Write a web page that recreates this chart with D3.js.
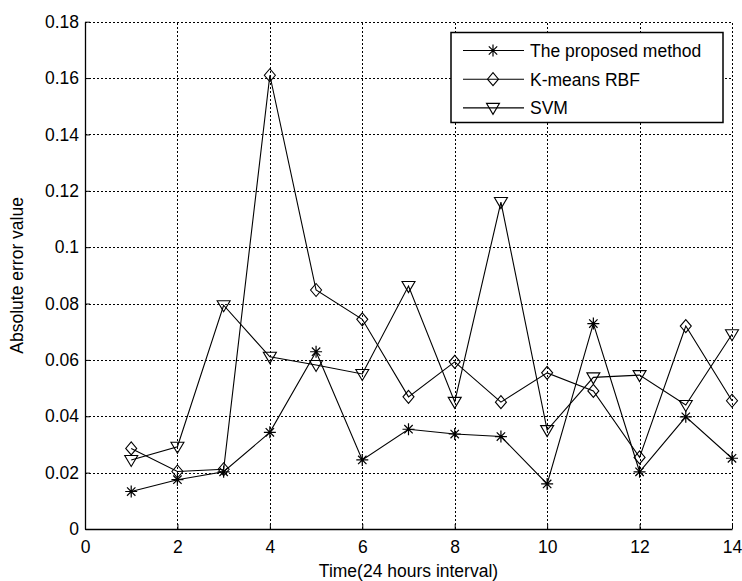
<!DOCTYPE html>
<html>
<head>
<meta charset="utf-8">
<script src="https://cdn.jsdelivr.net/npm/d3@7/dist/d3.min.js"></script>
<style>
  body { margin: 0; background: #fff; }
  text { font-family: Arial, "Liberation Sans", sans-serif; fill: #000; }
</style>
</head>
<body>
<div id="chart"></div>
<script>
let width = 742;
let height = 581;

// data
let hours = [1, 2, 3, 4, 5, 6, 7, 8, 9, 10, 11, 12, 13, 14];
let proposed = [0.0133, 0.0175, 0.0203, 0.0343, 0.0629, 0.0245, 0.0354, 0.0337, 0.0328, 0.0160, 0.0729, 0.0203, 0.0398, 0.0251];
let kmeans = [0.0286, 0.0204, 0.0212, 0.1610, 0.0848, 0.0744, 0.0469, 0.0593, 0.0450, 0.0554, 0.0490, 0.0254, 0.0720, 0.0455];
let svmErr = [0.0245, 0.0292, 0.0794, 0.0611, 0.0582, 0.0550, 0.0862, 0.0451, 0.1160, 0.0351, 0.0538, 0.0546, 0.0440, 0.0691];
let seriesNames = ['The proposed method', 'K-means RBF', 'SVM'];
let xTicks = [0, 2, 4, 6, 8, 10, 12, 14];
let yTicks = [0, 0.02, 0.04, 0.06, 0.08, 0.1, 0.12, 0.14, 0.16, 0.18];

let margin = { left: 85, right: 10, top: 21.7, bottom: 52 };
let svg = d3.select('#chart')
    .append('svg')
    .attr('width', width)
    .attr('height', height);

let x = d3.scaleLinear().domain([0, 14]).range([margin.left, width - margin.right]);
let y = d3.scaleLinear().domain([0, 0.18]).range([height - margin.bottom, margin.top]);

// grid
let grid = svg.append('g').attr('stroke', '#000').attr('stroke-width', 1).attr('stroke-dasharray', '2,2');
grid.selectAll('.gx').data(xTicks.slice(1, -1)).enter().append('line')
    .attr('x1', d => Math.round(x(d)) + 0.5).attr('x2', d => Math.round(x(d)) + 0.5)
    .attr('y1', y(0)).attr('y2', y(0.18));
grid.selectAll('.gy').data(yTicks.slice(1, -1)).enter().append('line')
    .attr('y1', d => Math.round(y(d)) + 0.5).attr('y2', d => Math.round(y(d)) + 0.5)
    .attr('x1', x(0)).attr('x2', x(14));
// top and right dotted edges
grid.append('line').attr('x1', x(0)).attr('x2', x(14)).attr('y1', Math.round(y(0.18)) + 0.5).attr('y2', Math.round(y(0.18)) + 0.5);
grid.append('line').attr('x1', Math.round(x(14)) + 0.5).attr('x2', Math.round(x(14)) + 0.5).attr('y1', y(0)).attr('y2', y(0.18));

// axes with inward ticks
let xAxis = svg.append('g')
    .attr('transform', 'translate(0,' + y(0) + ')')
    .call(d3.axisBottom(x).tickValues(xTicks).tickSizeInner(-5).tickSizeOuter(0).tickPadding(12).tickFormat(d3.format('d')));
let yAxis = svg.append('g')
    .attr('transform', 'translate(' + x(0) + ',0)')
    .call(d3.axisLeft(y).tickValues(yTicks).tickSizeInner(-5).tickSizeOuter(0).tickPadding(6).tickFormat(d => d === 0 ? '0' : String(+d.toFixed(2))));
[xAxis, yAxis].forEach(a => {
    a.selectAll('text').style('font-size', '17.5px').style('font-family', 'Arial, "Liberation Sans", sans-serif');
    a.select('.domain').attr('stroke-width', 1.3);
});

// x label
svg.append('text')
    .attr('x', (x(0) + x(14)) / 2)
    .attr('y', 577)
    .attr('text-anchor', 'middle')
    .style('font-size', '17.5px')
    .text('Time(24 hours interval)');
svg.append('text')
    .attr('transform', 'translate(23,' + ((y(0) + y(0.18)) / 2) + ') rotate(-90)')
    .attr('text-anchor', 'middle')
    .style('font-size', '17.5px')
    .text('Absolute error value');

// markers
function drawMarker(g, kind) {
    if (kind === 'star') {
        let r = 6;
        let p = 'M' + -r + ',0L' + r + ',0M0,' + -r + 'L0,' + r +
            'M' + -r * 0.7 + ',' + -r * 0.7 + 'L' + r * 0.7 + ',' + r * 0.7 +
            'M' + -r * 0.7 + ',' + r * 0.7 + 'L' + r * 0.7 + ',' + -r * 0.7;
        g.append('path').attr('d', p).attr('stroke', '#000').attr('stroke-width', 1.2).attr('fill', 'none');
    } else if (kind === 'diamond') {
        g.append('path').attr('d', 'M0,-6.5L5.5,0L0,6.5L-5.5,0Z').attr('stroke', '#000').attr('stroke-width', 1.1).attr('fill', 'none');
    } else {
        g.append('path').attr('d', 'M-6.5,-4.5L6.5,-4.5L0,6.5Z').attr('stroke', '#000').attr('stroke-width', 1.1).attr('fill', 'none');
    }
}

let allSeries = [
    { name: seriesNames[0], values: proposed, marker: 'star' },
    { name: seriesNames[1], values: kmeans, marker: 'diamond' },
    { name: seriesNames[2], values: svmErr, marker: 'tri' }
];

let line = d3.line().x((d, i) => x(hours[i])).y(d => y(d));
allSeries.forEach(s => {
    svg.append('path')
        .datum(s.values)
        .attr('d', line)
        .attr('fill', 'none')
        .attr('stroke', '#000')
        .attr('stroke-width', 1.1);
    s.values.forEach((v, i) => {
        let g = svg.append('g').attr('transform', 'translate(' + x(hours[i]) + ',' + y(v) + ')');
        drawMarker(g, s.marker);
    });
});

// legend
let legend = svg.append('g');
legend.append('rect')
    .attr('x', 451).attr('y', 32.5).attr('width', 272).attr('height', 90)
    .attr('fill', '#fff').attr('stroke', '#000').attr('stroke-width', 1.5);
allSeries.forEach((s, i) => {
    let ly = 50.5 + i * 28.7;
    legend.append('line').attr('x1', 463).attr('x2', 524).attr('y1', ly).attr('y2', ly)
        .attr('stroke', '#000').attr('stroke-width', 1.1);
    drawMarker(legend.append('g').attr('transform', 'translate(493,' + ly + ')'), s.marker);
    legend.append('text').attr('x', 530).attr('y', ly + 6.5)
        .style('font-size', '17.5px')
        .text(s.name);
});
</script>
</body>
</html>
